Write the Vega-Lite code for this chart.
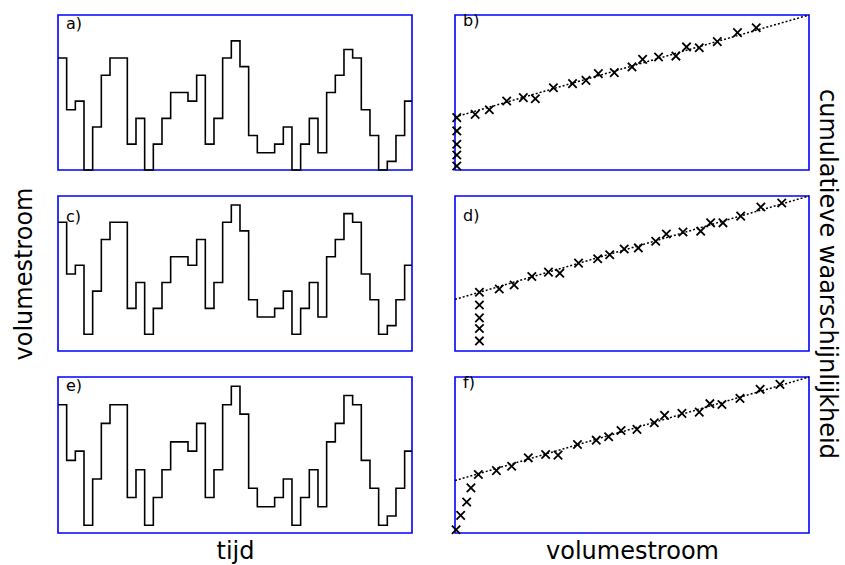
{
  "$schema": "https://vega.github.io/schema/vega-lite/v6.json",
  "padding": {"left": 11, "top": 11, "right": 5, "bottom": 5},
  "background": "white",
  "config": {
    "view": {"stroke": "#0000ff", "strokeWidth": 1.6},
    "axis": {"grid": false, "labels": false, "ticks": false, "domain": false, "titleFont": "DejaVu Sans", "titleFontSize": 24, "titleFontWeight": "normal", "titleColor": "black"},
    "title": {"font": "DejaVu Sans", "fontSize": 16, "fontWeight": "normal", "anchor": "start", "color": "black", "dx": 8, "offset": -17, "baseline": "alphabetic", "frame": "group"}
  },
  "datasets": {
    "steps": [
      {"t": 0, "q": 13}, {"t": 1, "q": 7}, {"t": 2, "q": 8}, {"t": 3, "q": 0}, {"t": 4, "q": 5},
      {"t": 5, "q": 11}, {"t": 6, "q": 13}, {"t": 7, "q": 13}, {"t": 8, "q": 3}, {"t": 9, "q": 6},
      {"t": 10, "q": 0}, {"t": 11, "q": 3}, {"t": 12, "q": 6}, {"t": 13, "q": 9}, {"t": 14, "q": 9},
      {"t": 15, "q": 8}, {"t": 16, "q": 11}, {"t": 17, "q": 3}, {"t": 18, "q": 6}, {"t": 19, "q": 13},
      {"t": 20, "q": 15}, {"t": 21, "q": 12}, {"t": 22, "q": 4}, {"t": 23, "q": 2}, {"t": 24, "q": 2},
      {"t": 25, "q": 3}, {"t": 26, "q": 5}, {"t": 27, "q": 0}, {"t": 28, "q": 3}, {"t": 29, "q": 6},
      {"t": 30, "q": 2}, {"t": 31, "q": 9}, {"t": 32, "q": 11}, {"t": 33, "q": 14}, {"t": 34, "q": 13},
      {"t": 35, "q": 7}, {"t": 36, "q": 4}, {"t": 37, "q": 0}, {"t": 38, "q": 1}, {"t": 39, "q": 4},
      {"t": 40, "q": 8}, {"t": 40.85, "q": 8}
    ],
    "lineb": [{"x": 0, "y": 0.342}, {"x": 1, "y": 1.0}],
    "lined": [{"x": 0, "y": 0.333}, {"x": 1, "y": 1.0}],
    "linef": [{"x": 0, "y": 0.336}, {"x": 1, "y": 1.0}],
    "ptsb": [
      {"x": 0.005, "y": 0.026}, {"x": 0.005, "y": 0.097}, {"x": 0.005, "y": 0.166}, {"x": 0.005, "y": 0.252},
      {"x": 0.005, "y": 0.338}, {"x": 0.057, "y": 0.359}, {"x": 0.097, "y": 0.389}, {"x": 0.146, "y": 0.445},
      {"x": 0.193, "y": 0.467}, {"x": 0.227, "y": 0.46}, {"x": 0.278, "y": 0.531}, {"x": 0.332, "y": 0.557},
      {"x": 0.37, "y": 0.578}, {"x": 0.405, "y": 0.622}, {"x": 0.45, "y": 0.628}, {"x": 0.5, "y": 0.665},
      {"x": 0.53, "y": 0.714}, {"x": 0.575, "y": 0.729}, {"x": 0.624, "y": 0.735}, {"x": 0.654, "y": 0.794},
      {"x": 0.69, "y": 0.789}, {"x": 0.741, "y": 0.828}, {"x": 0.798, "y": 0.886}, {"x": 0.851, "y": 0.918}
    ],
    "ptsd": [
      {"x": 0.069, "y": 0.065}, {"x": 0.069, "y": 0.145}, {"x": 0.069, "y": 0.214}, {"x": 0.069, "y": 0.297},
      {"x": 0.069, "y": 0.379}, {"x": 0.125, "y": 0.4}, {"x": 0.167, "y": 0.426}, {"x": 0.217, "y": 0.481},
      {"x": 0.264, "y": 0.509}, {"x": 0.296, "y": 0.502}, {"x": 0.349, "y": 0.567}, {"x": 0.403, "y": 0.595},
      {"x": 0.437, "y": 0.621}, {"x": 0.478, "y": 0.658}, {"x": 0.518, "y": 0.665}, {"x": 0.567, "y": 0.708},
      {"x": 0.597, "y": 0.755}, {"x": 0.644, "y": 0.768}, {"x": 0.694, "y": 0.773}, {"x": 0.722, "y": 0.827},
      {"x": 0.757, "y": 0.827}, {"x": 0.807, "y": 0.87}, {"x": 0.864, "y": 0.929}, {"x": 0.923, "y": 0.955}
    ],
    "ptsf": [
      {"x": 0.003, "y": 0.021}, {"x": 0.016, "y": 0.113}, {"x": 0.033, "y": 0.199}, {"x": 0.045, "y": 0.289},
      {"x": 0.066, "y": 0.375}, {"x": 0.117, "y": 0.4}, {"x": 0.16, "y": 0.428}, {"x": 0.207, "y": 0.482},
      {"x": 0.256, "y": 0.503}, {"x": 0.291, "y": 0.499}, {"x": 0.346, "y": 0.567}, {"x": 0.399, "y": 0.595},
      {"x": 0.434, "y": 0.617}, {"x": 0.469, "y": 0.657}, {"x": 0.514, "y": 0.664}, {"x": 0.563, "y": 0.707},
      {"x": 0.592, "y": 0.754}, {"x": 0.641, "y": 0.767}, {"x": 0.69, "y": 0.775}, {"x": 0.72, "y": 0.829},
      {"x": 0.754, "y": 0.824}, {"x": 0.805, "y": 0.863}, {"x": 0.862, "y": 0.921}, {"x": 0.918, "y": 0.953}
    ]
  },
  "columns": 2,
  "spacing": {"row": 26, "column": 43},
  "bounds": "flush",
  "concat": [
    {
      "width": 354, "height": 155,
      "title": {"text": "a)", "fontSize": 16, "frame": "group"},
      "data": {"name": "steps"},
      "mark": {"type": "line", "interpolate": "step-after", "color": "black", "strokeWidth": 1.6},
      "encoding": {
        "x": {"field": "t", "type": "quantitative", "scale": {"domain": [0, 40.85], "nice": false, "zero": false}, "axis": null},
        "y": {"field": "q", "type": "quantitative", "scale": {"domain": [0, 18], "nice": false}, "axis": null}
      }
    },
    {
      "width": 354, "height": 155,
      "title": {"text": "b)", "fontSize": 16, "frame": "group"},
      "encoding": {
        "x": {"field": "x", "type": "quantitative", "scale": {"domain": [0, 1], "nice": false}, "axis": null},
        "y": {"field": "y", "type": "quantitative", "scale": {"domain": [0, 1], "nice": false}, "axis": null}
      },
      "layer": [
        {"data": {"name": "lineb"}, "mark": {"type": "line", "color": "black", "strokeDash": [2, 2], "strokeWidth": 1.5}},
        {"data": {"name": "ptsb"}, "mark": {"type": "point", "shape": "M-1,-1L1,1M-1,1L1,-1", "filled": false, "color": "black", "strokeWidth": 1.8, "size": 70, "opacity": 1}}
      ]
    },
    {
      "width": 354, "height": 155,
      "title": {"text": "c)", "fontSize": 16, "frame": "group", "offset": -38},
      "data": {"name": "steps"},
      "mark": {"type": "line", "interpolate": "step-after", "color": "black", "strokeWidth": 1.6},
      "encoding": {
        "x": {"field": "t", "type": "quantitative", "scale": {"domain": [0, 40.85], "nice": false, "zero": false}, "axis": null},
        "y": {"field": "q", "type": "quantitative", "scale": {"domain": [-1.95, 16.05], "nice": false, "zero": false}, "axis": {"title": "volumestroom", "titlePadding": 22}}
      }
    },
    {
      "width": 354, "height": 155,
      "title": {"text": "d)", "fontSize": 16, "frame": "group", "offset": -135},
      "encoding": {
        "x": {"field": "x", "type": "quantitative", "scale": {"domain": [0, 1], "nice": false}, "axis": null},
        "y": {"field": "y", "type": "quantitative", "scale": {"domain": [0, 1], "nice": false}, "axis": {"orient": "right", "title": "cumulatieve waarschijnlijkheid", "titlePadding": 5}}
      },
      "layer": [
        {"data": {"name": "lined"}, "mark": {"type": "line", "color": "black", "strokeDash": [2, 2], "strokeWidth": 1.5}},
        {"data": {"name": "ptsd"}, "mark": {"type": "point", "shape": "M-1,-1L1,1M-1,1L1,-1", "filled": false, "color": "black", "strokeWidth": 1.8, "size": 70, "opacity": 1}}
      ]
    },
    {
      "width": 354, "height": 156,
      "title": {"text": "e)", "fontSize": 16, "frame": "group"},
      "data": {"name": "steps"},
      "mark": {"type": "line", "interpolate": "step-after", "color": "black", "strokeWidth": 1.6},
      "encoding": {
        "x": {"field": "t", "type": "quantitative", "scale": {"domain": [0, 40.85], "nice": false, "zero": false}, "axis": {"title": "tijd", "titlePadding": 6}},
        "y": {"field": "q", "type": "quantitative", "scale": {"domain": [-0.83, 16], "nice": false, "zero": false}, "axis": null}
      }
    },
    {
      "width": 354, "height": 156,
      "title": {"text": "f)", "fontSize": 16, "frame": "group"},
      "encoding": {
        "x": {"field": "x", "type": "quantitative", "scale": {"domain": [0, 1], "nice": false}, "axis": {"title": "volumestroom", "titlePadding": 6}},
        "y": {"field": "y", "type": "quantitative", "scale": {"domain": [0, 1], "nice": false}, "axis": null}
      },
      "layer": [
        {"data": {"name": "linef"}, "mark": {"type": "line", "color": "black", "strokeDash": [2, 2], "strokeWidth": 1.5}},
        {"data": {"name": "ptsf"}, "mark": {"type": "point", "shape": "M-1,-1L1,1M-1,1L1,-1", "filled": false, "color": "black", "strokeWidth": 1.8, "size": 70, "opacity": 1}}
      ]
    }
  ]
}
